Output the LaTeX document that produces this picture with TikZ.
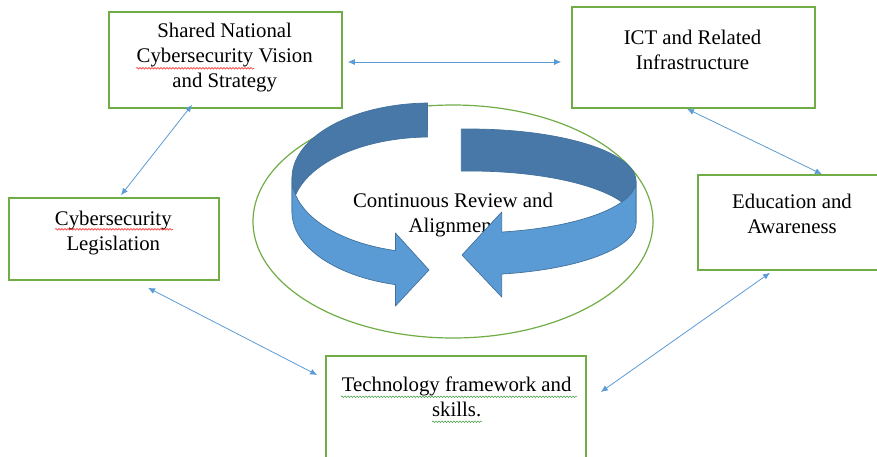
\documentclass[tikz,border=0pt]{standalone}
\usepackage{fontspec}
\setmainfont{Liberation Serif}
\usetikzlibrary{arrows.meta,calc,shapes.geometric,decorations.pathmorphing}
\definecolor{boxgreen}{HTML}{70AD47}
\definecolor{linkblue}{HTML}{5B9BD5}
\definecolor{ribbonlight}{HTML}{5B9BD5}
\definecolor{ribbondark}{HTML}{4878A8}
\definecolor{ribbonedge}{HTML}{41719C}
\definecolor{gramgreen}{HTML}{3C9A3C}
\tikzset{
  box/.style={draw=boxgreen, line width=1.6pt, rectangle, inner sep=0pt},
  label/.style={align=center, inner sep=0pt, font=\fontsize{20.8}{25}\selectfont},
  link/.style={draw=linkblue, line width=0.8pt, {Latex[length=7pt,width=6pt]}-{Latex[length=7pt,width=6pt]}},
  backface/.style={fill=ribbondark, draw=ribbonedge, line width=0.7pt, line join=round},
  frontface/.style={fill=ribbonlight, draw=ribbonedge, line width=0.7pt, line join=round},
  spellwave/.style={line width=0.5pt, decorate, decoration={snake, segment length=3pt, amplitude=0.8pt}},
}
\begin{document}
\begin{tikzpicture}[x=1pt, y=-1pt]
\useasboundingbox (0,0) rectangle (877,456);
\clip (0,0) rectangle (877,456);
% central ellipse and text
\node[draw=boxgreen, line width=1.2pt, ellipse, minimum width=400pt, minimum height=233pt] (cycle) at (453,221.5) {};
\node[label] (cyctext) at (453,215.3) {Continuous Review and\\Alignment};
% left ribbon arrow
\filldraw[backface] plot[domain=91:180, samples=40] ({430+138*cos(\x)},{178-75*sin(\x)})
  -- plot[domain=180:91, samples=40] ({430+138*cos(\x)},{212-75*sin(\x)}) -- cycle;
\filldraw[frontface] plot[domain=180:255.5, samples=40] ({430+138*cos(\x)},{178-75*sin(\x)})
  -- (395.4,233) -- (429,270) -- (395.4,306)
  -- plot[domain=255.5:180, samples=40] ({430+138*cos(\x)},{212-75*sin(\x)}) -- cycle;
% right ribbon arrow
\filldraw[backface] plot[domain=93:0, samples=40] ({470+166*cos(\x)},{181-52*sin(\x)})
  -- plot[domain=0:93, samples=40] ({470+166*cos(\x)},{223-52*sin(\x)}) -- cycle;
\filldraw[frontface] plot[domain=0:-79, samples=40] ({470+166*cos(\x)},{181-52*sin(\x)})
  -- (501.7,212) -- (462,255) -- (501.7,297)
  -- plot[domain=-79:0, samples=40] ({470+166*cos(\x)},{223-52*sin(\x)}) -- cycle;
% boxes
\node[box, minimum width=233pt, minimum height=96pt] (b1) at (225.5,60) {};
\node[box, minimum width=243pt, minimum height=101pt] (b2) at (693.5,57.5) {};
\node[box, minimum width=210pt, minimum height=82pt] (b3) at (114,239) {};
\node[box, minimum width=188pt, minimum height=95pt] (b4) at (792,222.5) {};
\node[box, minimum width=260pt, minimum height=114pt] (b5) at (456,413) {};
% texts
\node[label] (t1) at (224.7,57.3) {Shared National\\Cybersecurity Vision\\and Strategy};
\node[label] (t2) at (692.5,49.7) {ICT and Related\\Infrastructure};
\node[label] (t3) at (113.3,232.8) {Cybersecurity\\Legislation};
\node[label] (t4) at (792,213.9) {Education and\\Awareness};
\node[label] (t5) at (456.7,397.2) {Technology framework and\\skills.};
% spell-check marks
\draw[spellwave, red] (136,68.3) -- (254,68.3);
\draw[spellwave, red] (55,229.3) -- (173,229.3);
\draw[spellwave, gramgreen] (341,396.7) -- (577,396.7);
\draw[spellwave, gramgreen] (432,421.7) -- (482,421.7);
% connectors
\draw[link] ($(b1.east)+(5,2)$) -- ($(b2.west)+(-10,4.5)$);
\draw[link] ($(b1.south)+(-33.5,-4)$) -- ($(b3.north)+(7,-2)$);
\draw[link] ($(b2.south)+(-6.5,0)$) -- ($(b4.north)+(30,0)$);
\draw[link] ($(b3.south)+(34,7)$) -- ($(b5.west)+(-8,-38)$);
\draw[link] ($(b4.south)+(-22,2)$) -- ($(b5.east)+(14,-21)$);
\end{tikzpicture}
\end{document}
